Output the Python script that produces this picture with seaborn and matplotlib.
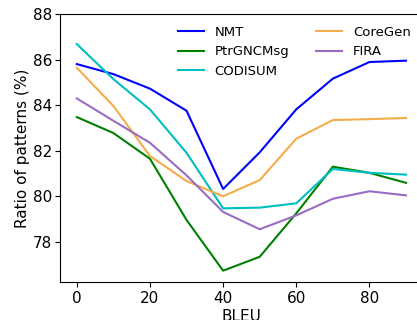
import matplotlib
matplotlib.use("Agg")
import matplotlib.pyplot as plt
import seaborn as sns
import pandas as pd

bleu = [0, 10, 20, 30, 40, 50, 60, 70, 80, 90]
nmt = [85.80, 85.36, 84.72, 83.75, 80.31, 81.92, 83.81, 85.16, 85.89, 85.95]
ptrgncmsg = [83.47, 82.77, 81.64, 78.95, 76.72, 77.33, 79.24, 81.29, 81.02, 80.58]
codisum = [86.68, 85.14, 83.81, 81.90, 79.46, 79.49, 79.68, 81.19, 81.02, 80.94]
coregen = [85.64, 83.96, 81.76, 80.66, 79.99, 80.70, 82.52, 83.34, 83.38, 83.43]
fira = [84.29, 83.31, 82.34, 80.91, 79.30, 78.54, 79.15, 79.88, 80.21, 80.03]

names = ["NMT", "PtrGNCMsg", "CODISUM", "CoreGen", "FIRA"]
series = [nmt, ptrgncmsg, codisum, coregen, fira]
colors = ["#0000ff", "#008000", "#00bfbf", "#f5ac4a", "#9a6cc4"]

rows = []
for n, s in zip(names, series):
    for x, y in zip(bleu, s):
        rows.append({"BLEU": x, "ratio": y, "model": n})
df = pd.DataFrame(rows)

plt.rcParams['font.family'] = ['DejaVu Sans']

fig = plt.figure(figsize=(4.17, 3.2), dpi=100)
ax = fig.add_axes([0.1446, 0.1172, 0.8686, 0.8390])
sns.lineplot(data=df, x="BLEU", y="ratio", hue="model", hue_order=names,
             palette=dict(zip(names, colors)), linewidth=1.5, ax=ax)

ax.set_xlim(-4.5, 94.5)
ax.set_ylim(76.2, 88)
ax.set_xticks([0, 20, 40, 60, 80])
ax.set_yticks([78, 80, 82, 84, 86, 88])
ax.tick_params(labelsize=11, pad=2.5, length=3.3)
ax.set_xlabel("BLEU", fontsize=11, labelpad=2.5)
ax.set_ylabel("Ratio of patterns (%)", fontsize=11, labelpad=2)
ax.legend(loc="upper right", ncol=2, frameon=False, fontsize=9.5)

fig.savefig("out.png", dpi=100)
